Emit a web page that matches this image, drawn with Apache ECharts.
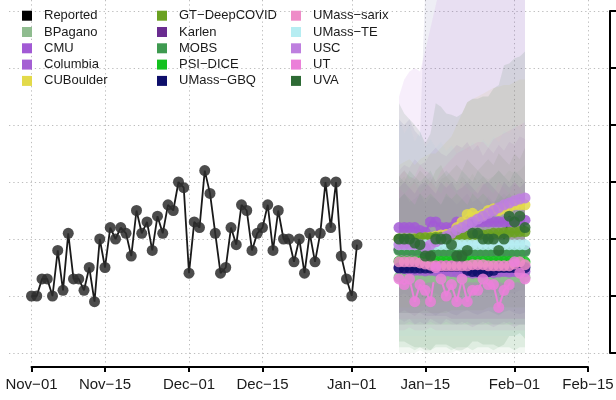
<!DOCTYPE html>
<html><head><meta charset="utf-8">
<script src="https://cdn.jsdelivr.net/npm/echarts@6/dist/echarts.min.js"></script>
<style>html,body{margin:0;padding:0;background:#fff}#c{width:616px;height:400px}</style>
</head><body><div id="c"></div>
<script>
// ---------------- DATA ----------------
const TICK_LABELS = ['Nov−01','Nov−15','Dec−01','Dec−15','Jan−01','Jan−15','Feb−01','Feb−15'];
const X_START = '2020-11-01';
const X_END = '2021-02-15';
const Y_TICKS = [0, 10, 20, 30, 40, 50, 60];

const REPORTED_START = '2020-11-01';
const reported = [10,10,13,13,10,18,11,21,13,13,11,15,9,20,15,22,20,22,21,17,25,21,23,18,24,21,26,25,30,29,14,23,22,32,28,21,14,15,22,19,26,25,18,21,22,26,18,25,20,20,16,20,14,21,16,21,30,22,30,17,13,10,19];

const FC_START = '2021-01-10';
const modelNames = ['BPagano','CMU','Columbia','CUBoulder','GT−DeepCOVID','Karlen','MOBS','PSI−DICE','UMass−GBQ','UMass−sarix','UMass−TE','USC','UT','UVA'];
const modelColors = ['#8FBC8F','#A25AD5','#A45FD3','#E3DA4A','#6AA121','#6A2C90','#3E9A50','#14C11F','#0E0F6B','#EE8CC8','#B6EDF2','#BE7FDF','#EB80D9','#2D6A34'];

// medians
const BPagano_med  = [13.3,13.3,13.2,13.3,13.3,13.2,13.3,13.3,13.2,13.3,13.3,13.3,13.2,13.3,13.3,13.3,13.2,13.3,13.3,13.3,13.2,13.3,13.3,13.3,13.3];
const CMU_med      = [22,22,22,22,21.5,21.2,23,23,22,22,22,23,23,23,23,23,23,23,23,23,23,23,23,23.3,23.3];
const Columbia_med = [15,14.8,14.6,14.5,14.5,14.4,14.5,14.4,14.3,14.4,14.3,14.2,14.3,14.2,14,14.1,14,14.2,14.1,14.2,14.3,14.2,14.3,14.3,14.3];
const CUBoulder_med= [20,20,20,20,20,20.2,20.3,20.5,20.7,20.8,21,22,23,24.3,24.5,24,24.3,25,25.3,25,25.3,25.6,26,26,26];
const GT_med       = [20,20,20,20,20.2,20.2,20.2,20.3,20.3,20.3,20.4,20.4,20.5,20.5,20.6,20.6,20.7,20.8,21,21,21.1,21.2,21.2,21.3,21.3];
const Karlen_med   = [18.2,18.2,18.1,18.1,18.1,18,18,18,18,18,18,18,18,18,18,18,18,18,18,18,18,18,18,18,18];
const MOBS_med     = [18,18,18,17.9,17.9,17.9,17.8,17.8,17.8,17.8,17.8,17.8,17.8,17.8,17.8,17.8,17.8,17.8,17.8,17.8,17.8,17.8,17.8,17.8,17.8];
const PSI_med      = [16.1,16.1,16.1,16.1,16.1,16.1,16.1,16.1,16.1,16.1,16.1,16.1,16.1,16.1,16.1,16.1,16.1,16.1,16.1,16.1,16.1,16.1,16.1,16.1,16];
const GBQ_med      = [14.9,14.9,14.9,14.9,14.9,14.9,14.9,15.2,15.2,15.2,15.2,15.2,15.2,14.5,14.3,14.3,14.2,14.3,14.5,15,15,15,15,15,15];
const sarix_med    = [16,16,16,16,15.8,15.6,15.4,15.3,15.3,15.3,15.3,15.3,15.3,15.3,15.5,15.5,15.5,15.3,15.3,15.3,15.3,15.3,15.6,16,15.5];
const TE_med       = [19,19,19,19,19,19,19,19,19,19,19,19,19,19,19,19,19,19,19,19,19,19,19,19,19];
const USC_med      = [19,19,19,19,19,18.5,19,19.5,20,20.5,21,21.6,22,22.5,23,23.5,24,24.5,25,25.5,26,26.3,26.7,27,27.2];
const UT_med       = [13,12,13,9,12,11,9,15,13,10,12,9,13,9,11,11,13,12,12,8,11,12,16,14,13];
const UVA_med      = [20,20,20,19.3,19,17,17,20,20,20,19,17,17,18,21,21,20,20,20,18,20,24,23,24,22];

// prediction interval bounds
const BPagano_lo  = [0,0,0,0,0.5,0,0,0,0,0,0,0.5,0,0,0,0,0,0,0,0,0,0,0,0,0];
const BPagano_hi  = [30,31,29.5,30.5,29,30,31,29,30.5,31,30,29.5,31,30,31.5,30,31,30.5,31,32,31,32,31.5,32,33];
const CMU_lo      = [10,10.5,10,10,9.5,9.5,10.5,10.5,10,10,10,10.5,10.5,10.5,10.5,10.5,10.5,10.5,10.5,10.5,10.5,10.5,10.5,11,11];
const CMU_hi      = [32,33,32.5,34,33,33.5,35,36,35,34.5,35.5,36.5,36,37,35.5,36.5,34.5,36,35,36.5,35.5,37,36.5,38,37.5];
const Columbia_lo = [6,5.5,6,5,5.5,5,6,5.5,5,6,5.5,5,5.5,5,4.5,5,5.5,5,4.5,5,5.5,5,4.5,5,5];
const Columbia_hi = [27,28,26.5,27,28,26,27.5,27,26,27.5,27,26,27,28,26.5,27,26,27.5,26.5,27,28,27,26.5,27.5,27];
const CUBoulder_lo= [8,8,8,8,8,8.5,8.5,8.5,9,9,9,9.5,10,10.5,11,11,11,11.5,11.5,11.5,12,12,12.5,12.5,12.5];
const CUBoulder_hi= [33,33.5,34,33,34,34.5,35,35,36,37,38,40,42,44,44.5,45,45.5,46,46.5,46.7,47,47,47.5,48,48];
const GT_lo       = [7,7,7,7,7,7,7,7,7,7,7.5,7.5,7.5,7.5,7.5,7.5,7.5,8,8,8,8,8,8,8,8];
const GT_hi       = [31,32,31,30.5,32,31,30,32,33,31,32,33,32,34,33,32,33,34,33,35,34,33,35,34,36];
const Karlen_lo   = [7,7.5,7,6.5,7.2,7.6,7,6.6,7.1,7.4,6.9,6.6,7.2,7.5,7,6.7,7.1,7.4,7,6.6,7.2,7.5,7,6.8,7.1];
const Karlen_hi   = [29,30,29,28,29.5,30,29,28,30,29,30,28.5,29,30,29,28,29.5,30,29,28,30,29,30,29,30];
const MOBS_lo     = [1,1,1,0.5,1,1,0.5,1,1,1,0.5,1,1,1,0.5,1,1,1,0.5,1,1,1,0.5,1,1];
const MOBS_hi     = [31,30,32,31,30,31,32,30,31,32,31,30,32,31,30,32,31,30,31,32,31,30,32,31,30];
const PSI_lo      = [5,5,5,5,5,5,5,5,5,5,5,5,5,5,5,5,5,5,5,5,5,5,5,5,5];
const PSI_hi      = [27,28,27,26,28,27,28,27,26,28,27,28,27,26,28,27,28,27,26,28,27,28,27,26,28];
const GBQ_lo      = [7,7,7,7,7,6.5,6.5,6.5,6.5,6.5,6,6,6,6,6,6,6,6,6,6,6,6,6,6,6];
const GBQ_hi      = [41,40,41,39,38,64,70,74,77,80,82,84,86,88,90,92,94,96,98,100,102,104,106,108,110];
const sarix_lo    = [6,6,6,6,6,6,6,6,6,6,6,6,6,6,6,6,6,6,6,6,6,6,6,6,6];
const sarix_hi    = [29,28,29,30,28,29,30,29,28,30,29,28,30,29,28,29,30,29,28,30,29,28,30,29,28];
const TE_lo       = [3,3,3,3,3,3,3,3,3,3,3,3,3,3,3,3,3,3,3,3,3,3,3,3,3];
const TE_hi       = [41,38.5,40,37,39,36,37.5,36,37,35.5,36.5,35,36,35.5,37,36,37.5,36.5,38,37,39,38.5,40,39,41];
const USC_lo      = [5,5,5.5,5,5,5,5.5,5,5,5.5,5,5,5,5.5,5,5,5,5.5,5,5,5,5.5,5,5,5];
const USC_hi      = [45,48,49.4,50,49.4,53,57,61,65,68,71,74,76,79,81,83,85,88,90,92,95,97,99,101,103];
const UT_lo       = [4,4,4.5,4,4,4,4.5,4,4,4,4,4,4,4,4,4,4,4,4,4,4,4,4,4,4];
const UT_hi       = [31,32,30.5,31,33,32,31.5,30,32,33,34,35,35.5,36,36.5,37,37,36,37.5,38,38.5,39,39.5,40,40.5];
const UVA_lo      = [2,2,1.5,1,1,0.5,0.5,1.5,1.5,1.5,1,0.5,0.5,1,2,2,1.5,1.5,1.5,1,1.5,3,3,3.5,2.5];
const UVA_hi      = [43.8,42,41,40,38.8,36.8,38.5,43.8,43.2,42,41.8,41.4,42,44,44.6,44.6,45,45,46.4,47,50.5,50.8,51.7,52,52.9];

const medians = [BPagano_med,CMU_med,Columbia_med,CUBoulder_med,GT_med,Karlen_med,MOBS_med,PSI_med,GBQ_med,sarix_med,TE_med,USC_med,UT_med,UVA_med];
const lows    = [BPagano_lo,CMU_lo,Columbia_lo,CUBoulder_lo,GT_lo,Karlen_lo,MOBS_lo,PSI_lo,GBQ_lo,sarix_lo,TE_lo,USC_lo,UT_lo,UVA_lo];
const highs   = [BPagano_hi,CMU_hi,Columbia_hi,CUBoulder_hi,GT_hi,Karlen_hi,MOBS_hi,PSI_hi,GBQ_hi,sarix_hi,TE_hi,USC_hi,UT_hi,UVA_hi];

// ---------------- BUILD ----------------
const bandAlpha = { 'UMass−GBQ': 0.07, 'USC': 0.13 };
const BAND_ALPHA_DEFAULT = 0.11;
const MONTHS = ['Jan','Feb','Mar','Apr','May','Jun','Jul','Aug','Sep','Oct','Nov','Dec'];
function dayTs(startStr, i) { const p = startStr.split('-').map(Number); return new Date(p[0], p[1]-1, p[2]+i).getTime(); }
const X_MIN = dayTs(X_START, 0), X_MAX = dayTs(X_END, 0);
const CAT = [];
for (let t = 0; ; t++) {
  const ts = dayTs(X_START, t); if (ts > X_MAX) break;
  const d = new Date(ts);
  CAT.push(MONTHS[d.getMonth()] + '−' + String(d.getDate()).padStart(2, '0'));
}
const isTick = (i, v) => TICK_LABELS.indexOf(v) >= 0;

function hexA(hex, a) {
  const n = parseInt(hex.slice(1), 16);
  return 'rgba(' + (n >> 16 & 255) + ',' + (n >> 8 & 255) + ',' + (n & 255) + ',' + a + ')';
}

const series = [];
modelNames.forEach((name, k) => {
  const data = lows[k].map((l, i) => [dayTs(FC_START, i), l, highs[k][i]]);
  const a = bandAlpha[name] || BAND_ALPHA_DEFAULT;
  series.push({
    type: 'custom', name: name + ' interval', xAxisIndex: 1, yAxisIndex: 0, z: 1, silent: true,
    data: data,
    renderItem: function (params, api) {
      if (params.dataIndex !== 0) return null;
      const pts = data.map(d => api.coord([d[0], d[2]]))
        .concat(data.slice().reverse().map(d => api.coord([d[0], d[1]])));
      return { type: 'polygon', shape: { points: pts }, style: { fill: hexA(modelColors[k], a) } };
    }
  });
});
modelNames.forEach((name, k) => {
  series.push({
    type: 'line', name: name, xAxisIndex: 1, yAxisIndex: 0, z: 3, clip: false,
    data: medians[k].map((v, i) => [dayTs(FC_START, i), v]),
    symbol: 'circle', symbolSize: 11, showSymbol: true,
    lineStyle: { color: modelColors[k], width: 2 },
    itemStyle: { color: modelColors[k], opacity: 0.85 }
  });
});
series.push({
  type: 'line', name: 'Reported', xAxisIndex: 1, yAxisIndex: 0, z: 5, clip: false,
  data: reported.map((v, i) => [dayTs(REPORTED_START, i), v]),
  symbol: 'circle', symbolSize: 11,
  lineStyle: { color: '#1a1a1a', width: 1.8 },
  itemStyle: { color: 'rgba(45,45,45,0.85)' }
});
series.push({ type: 'line', xAxisIndex: 2, yAxisIndex: 1, data: [], silent: true });

const legendNames = ['Reported'].concat(modelNames);
const legendColors = ['#000000'].concat(modelColors);
function legendCol(start, left) {
  return {
    left: left, top: 8.7, orient: 'vertical', padding: 0, itemGap: 2.3,
    itemWidth: 10, itemHeight: 10, icon: 'rect', selectedMode: false,
    textStyle: { fontFamily: 'Liberation Sans', fontSize: 13, color: '#1a1a1a', lineHeight: 14, padding: [0, 0, 0, 7] },
    data: legendNames.slice(start, start + 5).map((n, j) => ({
      name: n, icon: 'rect', itemStyle: { color: legendColors[start + j], opacity: 1, borderWidth: 0 }
    }))
  };
}

const gridLine = { show: true, lineStyle: { color: '#bdbdbd', width: 1, type: [1.3, 3] } };

const option = {
  animation: false,
  backgroundColor: '#ffffff',
  legend: [legendCol(0, 22), legendCol(5, 157), legendCol(10, 291)],
  grid: [
    { left: 31.5, top: 0, width: 556.5, height: 363, outerBoundsMode: 'none', containLabel: false },
    { left: 9, top: 11, width: 601, height: 342, outerBoundsMode: 'none', containLabel: false }
  ],
  xAxis: [
    {
      type: 'category', gridIndex: 0, data: CAT, boundaryGap: false, offset: 4, position: 'bottom',
      axisLine: { show: true, onZero: false, lineStyle: { color: '#000', width: 2 } },
      axisTick: { show: true, interval: isTick, length: 5, lineStyle: { color: '#000', width: 2 } },
      axisLabel: { show: true, interval: isTick, margin: 10, fontFamily: 'Liberation Sans', fontSize: 15, color: '#1a1a1a' },
      splitLine: Object.assign({ interval: isTick }, gridLine)
    },
    { type: 'time', gridIndex: 0, min: X_MIN, max: X_MAX, show: false },
    { type: 'value', gridIndex: 1, min: 0, max: 1, show: false }
  ],
  yAxis: [
    { type: 'value', gridIndex: 0, min: -10 / 5.7, max: 353 / 5.7, show: false },
    {
      type: 'value', gridIndex: 1, min: Y_TICKS[0], max: Y_TICKS[Y_TICKS.length - 1], interval: 10, position: 'right',
      axisLine: { show: true, onZero: false, lineStyle: { color: '#000', width: 2 } },
      axisTick: { show: true, length: 6, lineStyle: { color: '#000', width: 2 } },
      axisLabel: { show: true, fontFamily: 'Liberation Sans', fontSize: 15, color: '#1a1a1a' },
      splitLine: gridLine
    }
  ],
  series: series
};
const chart = echarts.init(document.getElementById('c'), null, { renderer: 'canvas' });
chart.setOption(option);
</script>
</body></html>
